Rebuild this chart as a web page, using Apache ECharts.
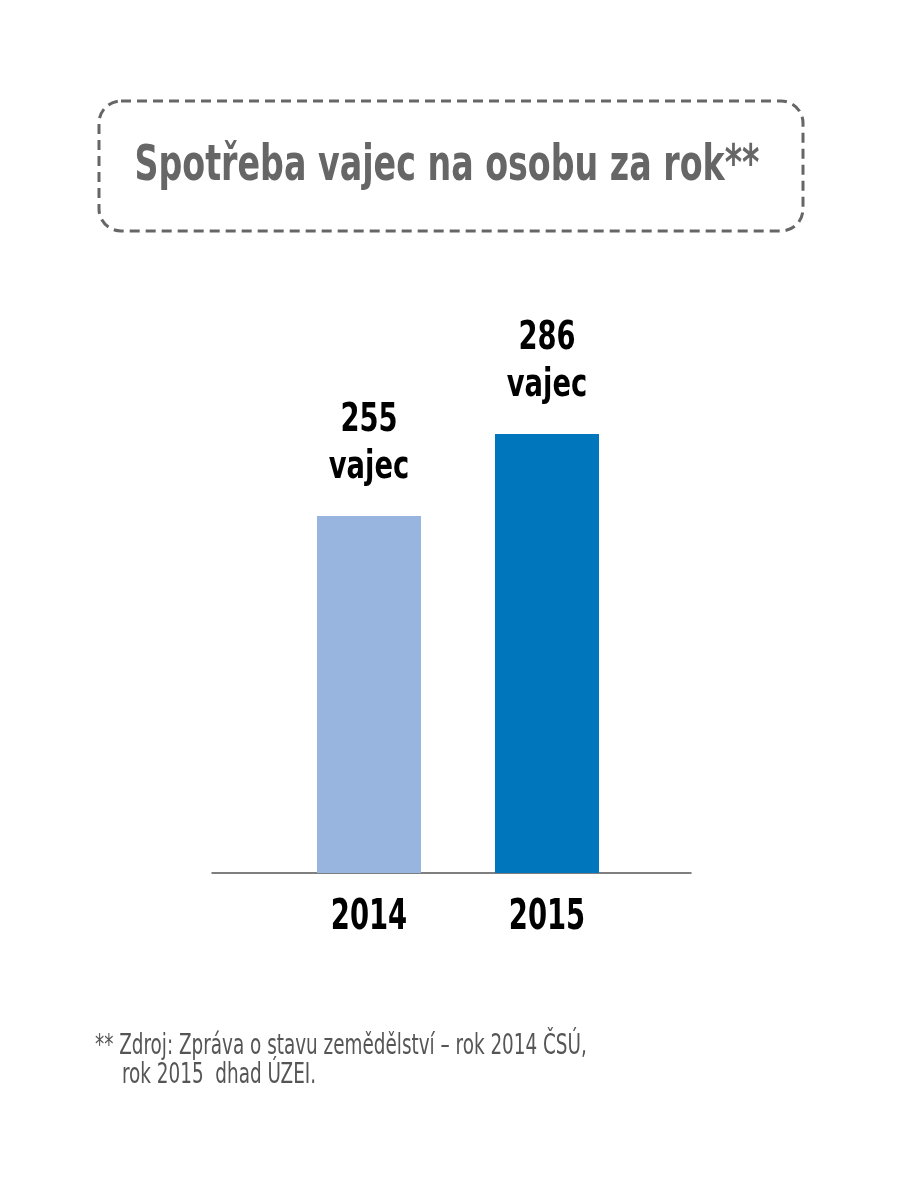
<!DOCTYPE html>
<html><head><meta charset="utf-8">
<script src="https://cdn.jsdelivr.net/npm/echarts@6/dist/echarts.min.js"></script>
<style>html,body{margin:0;padding:0;background:#fff}#c{width:904px;height:1200px}</style>
</head><body><div id="c"></div>
<script>
const categories = ['2014', '2015'];
const values = [255, 286];
const unit = 'vajec';
const barColors = ['#97b5de', '#0076bd'];
const titleText = 'Spotřeba vajec na osobu za rok**';
const footnoteLines = ['** Zdroj: Zpráva o stavu zemědělství – rok 2014 ČSÚ,', 'rok 2015  dhad ÚZEI.'];

const FONT = '"DejaVu Sans Condensed", "DejaVu Sans", sans-serif';
const Y_MIN = 120;
const chart = echarts.init(document.getElementById('c'), null, {renderer: 'canvas'});
chart.setOption({
  backgroundColor: '#fff',
  animation: false,
  graphic: [{
    type: 'rect', shape: {x: 99, y: 101, width: 704, height: 130, r: 22},
    style: {fill: 'none', stroke: '#666', lineWidth: 3, lineDash: [10, 6]}
  }, {
    type: 'text', x: 447, y: 167, scaleX: 0.74,
    style: {text: titleText, font: 'bold 50px ' + FONT, fill: '#666', align: 'center', verticalAlign: 'middle'}
  }, {
    type: 'text', x: 95, y: 1047, scaleX: 0.73,
    style: {text: footnoteLines[0], font: '28px ' + FONT, fill: '#555', align: 'left', verticalAlign: 'middle'}
  }, {
    type: 'text', x: 122, y: 1076, scaleX: 0.73,
    style: {text: footnoteLines[1], font: '28px ' + FONT, fill: '#555', align: 'left', verticalAlign: 'middle'}
  }],
  grid: [
    {left: 280, width: 356, top: 397, bottom: 327},
    {left: 212, right: 213, top: 397, bottom: 327}
  ],
  xAxis: [{
    type: 'category', data: categories, gridIndex: 0,
    axisLine: {show: false}, axisTick: {show: false}, axisLabel: {show: false}
  }, {
    type: 'category', data: [''], gridIndex: 1,
    axisLine: {show: true, lineStyle: {color: '#555', width: 1.5}},
    axisTick: {show: false}, axisLabel: {show: false}
  }],
  yAxis: [
    {type: 'value', min: Y_MIN, max: 300, show: false, gridIndex: 0},
    {type: 'value', min: 0, max: 1, show: false, gridIndex: 1}
  ],
  series: [{
    type: 'bar', xAxisIndex: 0, yAxisIndex: 0, barWidth: 104,
    data: values.map((v, i) => ({value: v, itemStyle: {color: barColors[i]}}))
  }, {
    type: 'custom', xAxisIndex: 0, yAxisIndex: 0, silent: true, z: 10,
    data: values.map((v, i) => [i, v]),
    renderItem: function (params, api) {
      const top = api.coord([api.value(0), api.value(1)]);
      const base = api.coord([api.value(0), Y_MIN]);
      const cat = categories[api.value(0)];
      const mk = (txt, x, y, size, sx) => ({
        type: 'text', x: x, y: y, scaleX: sx,
        style: {text: txt, font: 'bold ' + size + 'px ' + FONT, fill: '#000', align: 'center', verticalAlign: 'middle'}
      });
      return {type: 'group', children: [
        mk(String(api.value(1)), top[0], top[1] - 95, 39, 0.78),
        mk(unit, top[0], top[1] - 48, 39, 0.78),
        mk(cat, base[0], base[1] + 45, 43, 0.71)
      ]};
    }
  }]
});
</script></body></html>
